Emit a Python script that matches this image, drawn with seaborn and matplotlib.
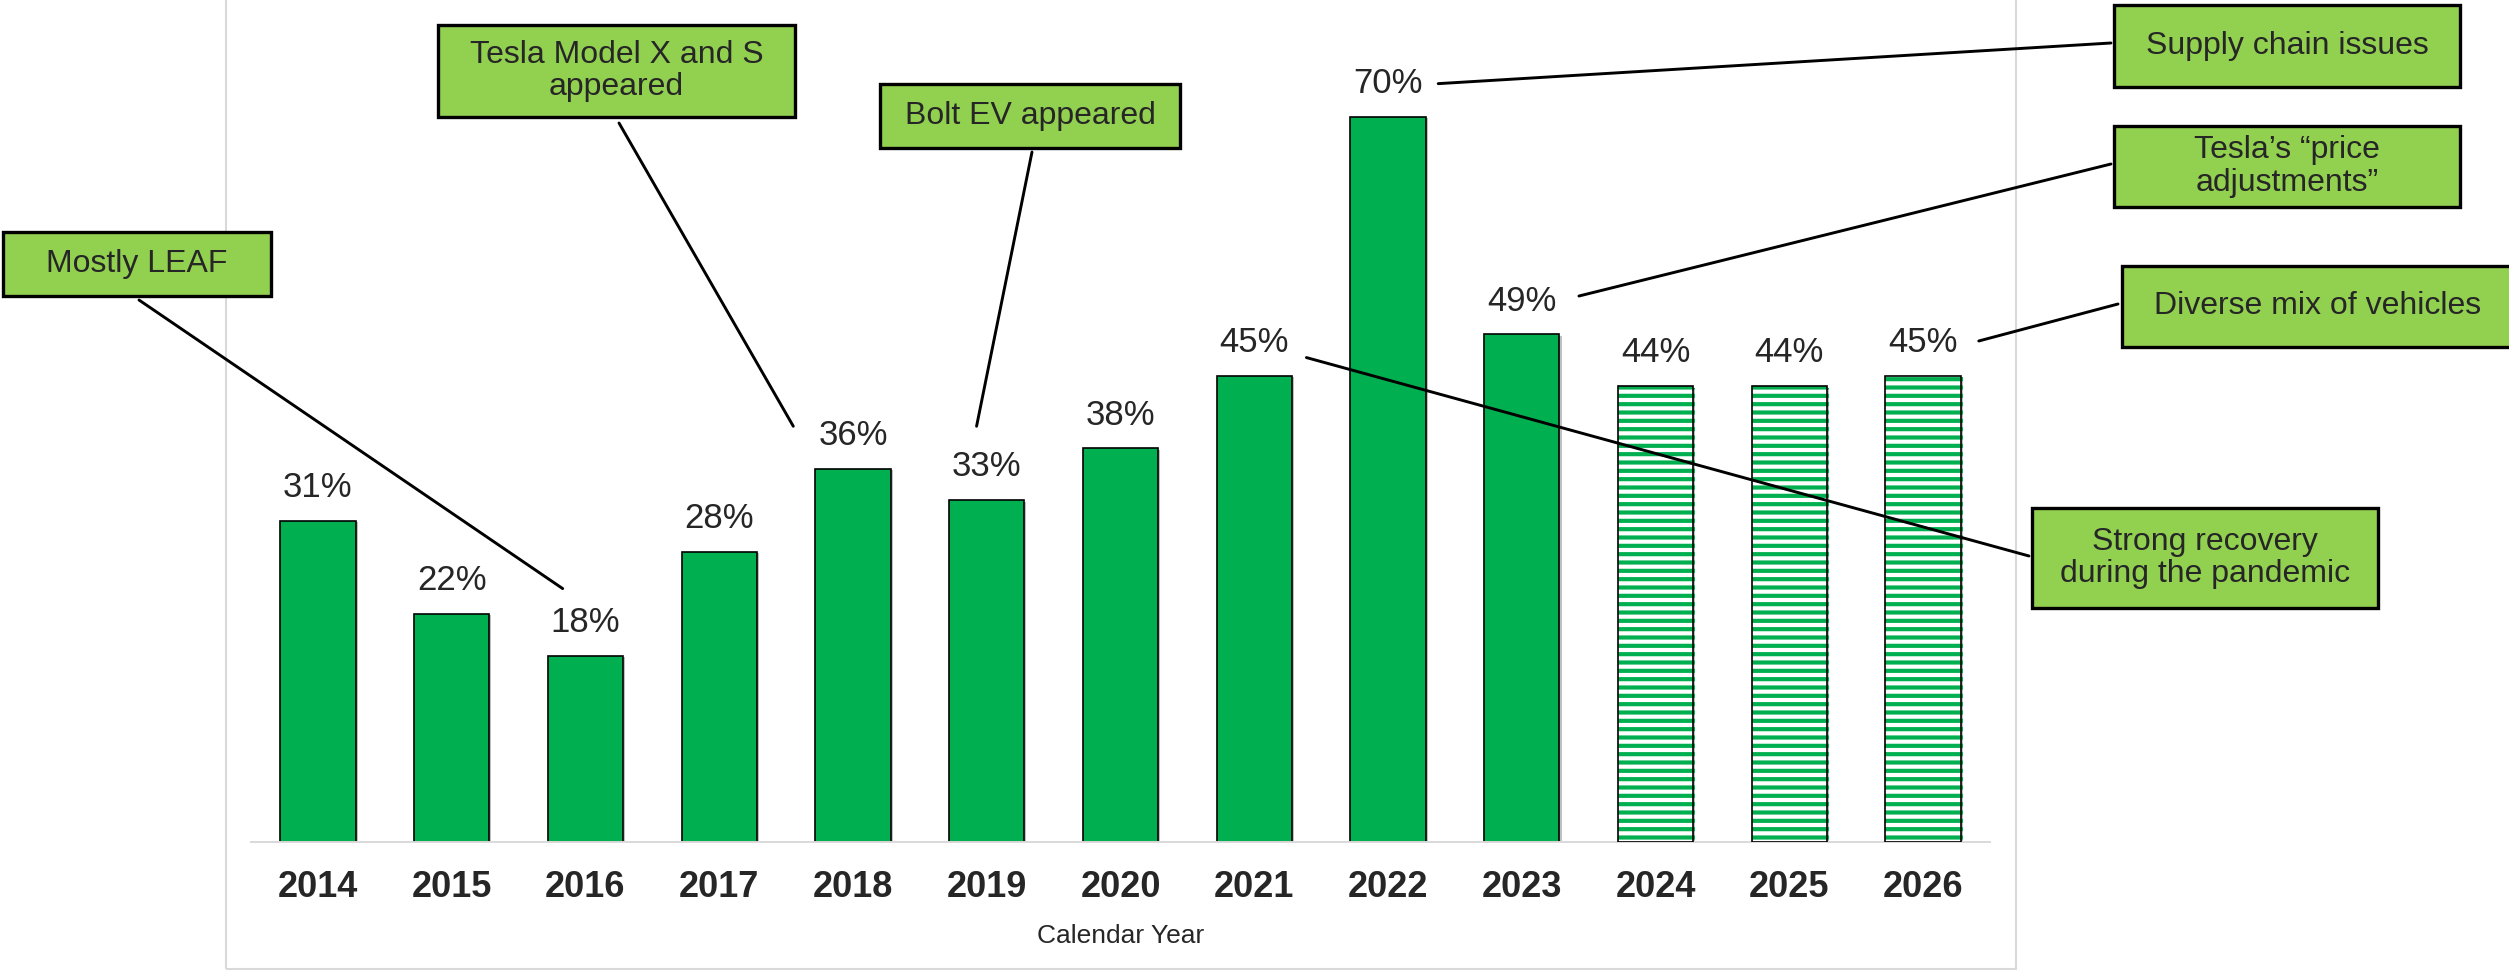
import pandas as pd
import matplotlib.pyplot as plt
import matplotlib.patheffects as pe
import seaborn as sns
from matplotlib.patches import Rectangle

# данные
years = ['2014', '2015', '2016', '2017', '2018', '2019', '2020',
         '2021', '2022', '2023', '2024', '2025', '2026']
shares = [31, 22, 18, 28, 36, 33, 38, 45, 70, 49, 44, 44, 45]
first_forecast = '2024'

note_texts = ['Mostly LEAF', 'Tesla Model X and S\nappeared', 'Bolt EV appeared',
              'Supply chain issues', 'Tesla\u2019s \u201cprice\nadjustments\u201d',
              'Diverse mix of vehicles', 'Strong recovery\nduring the pandemic']
note_years = ['2016', '2018', '2019', '2022', '2023', '2026', '2021']

# раскладка выносок, пиксели от левого верхнего угла
note_boxes = [(3, 232, 271, 296), (438, 25, 795, 117), (880, 84, 1180, 148),
              (2114, 5, 2460, 87), (2114, 126, 2460, 207),
              (2122, 266, 2514, 347), (2032, 508, 2378, 608)]
note_starts = [(139, 300), (619, 123), (1032, 152), (2111, 43),
               (2111, 164), (2118, 304), (2029, 556)]
note_offsets = [(-0.17, 6.46), (-0.446, 4.13), (-0.076, 7.13), (0.375, 3.2),
                (0.427, 3.7), (0.416, 3.36), (0.39, 1.76)]

GREEN = '#00B050'
LIGHT = '#92D050'
GRID = '#D9D9D9'
W, H = 2509, 973

df = pd.DataFrame({'year': years, 'share': shares})

sns.set_theme(style='white')
plt.rcParams['font.family'] = ['Liberation Sans', 'DejaVu Sans']
plt.rcParams['hatch.linewidth'] = 3.0

fig = plt.figure(figsize=(W / 100, H / 100), dpi=100)
ax = fig.add_axes([251 / W, 1 - 842 / H, (1990 - 251) / W, 842 / H])
ax.patch.set_visible(False)


def fx(x):
    return x / W


def fy(y):
    return 1 - y / H


sns.barplot(data=df, x='year', y='share', color=GREEN, saturation=1,
            width=0.563, edgecolor='black', linewidth=1.2, ax=ax)

shadow = [pe.SimplePatchShadow(offset=(1.5, -1), shadow_rgbFace='black', alpha=0.25),
          pe.Normal()]

# прогнозные столбцы - штриховка
for patch, year in zip(ax.patches, years):
    patch.set_path_effects(shadow)
    if year >= first_forecast:
        patch.set_facecolor('white')
        patch.set_edgecolor(GREEN)
        patch.set_linewidth(0)
        patch.set_hatch('--')
        ax.add_patch(Rectangle(patch.get_xy(), patch.get_width(), patch.get_height(),
                               fill=False, edgecolor='black', linewidth=1.2, zorder=3))

ax.bar_label(ax.containers[0], labels=[f'{v}%' for v in shares],
             padding=12, fontsize=25)

ax.set_ylim(0, 842 / 10.36)
ax.set_yticks([])
ax.set_ylabel('')
ax.set_xlabel('Calendar Year', fontsize=19, labelpad=14)
for side in ['left', 'top', 'right']:
    ax.spines[side].set_visible(False)
ax.spines['bottom'].set_color(GRID)
ax.spines['bottom'].set_linewidth(1.4)
ax.tick_params(axis='x', length=0, pad=20, labelsize=26)
for lbl in ax.get_xticklabels():
    lbl.set_fontweight('bold')

# рамка области диаграммы
fig.add_artist(Rectangle((fx(226), fy(969)), fx(2016) - fx(226), 1.05 - fy(969),
                         transform=fig.transFigure, fill=False,
                         edgecolor=GRID, linewidth=1.5, zorder=-1))

# выноски
for text, year, box, start, off in zip(note_texts, note_years, note_boxes,
                                        note_starts, note_offsets):
    i = years.index(year)
    ax.annotate('', xy=(i + off[0], shares[i] + off[1]), xycoords='data',
                xytext=(fx(start[0]), fy(start[1])), textcoords='figure fraction',
                arrowprops=dict(arrowstyle='-', color='black', lw=2.1,
                                shrinkA=0, shrinkB=0),
                annotation_clip=False)
    x0, y0, x1, y1 = box
    fig.add_artist(Rectangle((fx(x0), fy(y1)), fx(x1) - fx(x0), fy(y0) - fy(y1),
                             transform=fig.transFigure, facecolor=LIGHT,
                             edgecolor='black', linewidth=2.4, zorder=5))
    fig.text(fx((x0 + x1) / 2), fy((y0 + y1) / 2), text, ha='center', va='center',
             fontsize=23, linespacing=1.1, zorder=6)

fig.savefig('out.png', dpi=100)
